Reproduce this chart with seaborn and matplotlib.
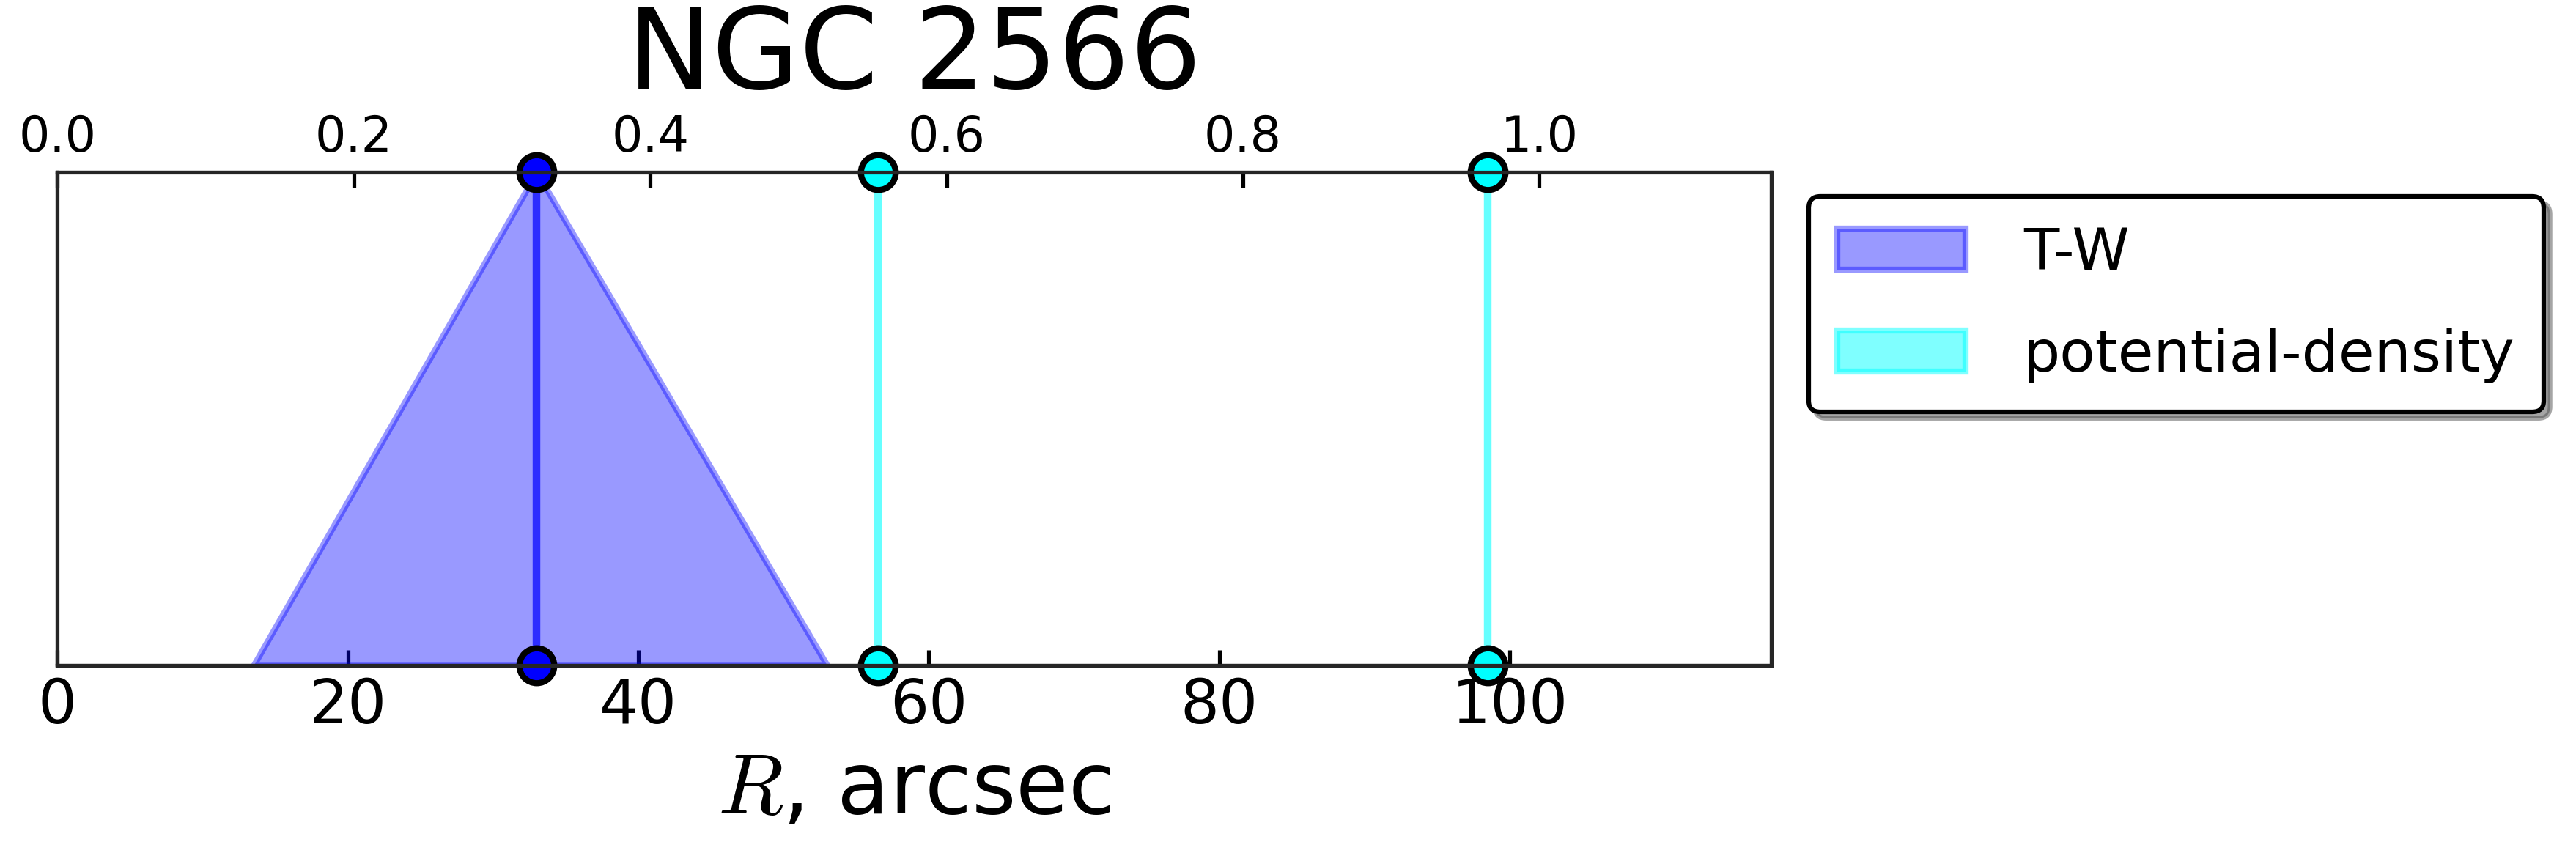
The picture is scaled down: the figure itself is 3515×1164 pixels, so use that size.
import matplotlib
matplotlib.use("Agg")
import matplotlib.pyplot as plt
import seaborn as sns
import pandas as pd

# data
tw_center = 33.0
tw_low = 13.5
tw_high = 53.0
pd_radii = [56.5, 98.5]
x_max = 118.0
scale_kpc = 0.0098  # top axis / arcsec

sns.set_theme(style="white")
plt.rcParams["font.family"] = ["DejaVu Sans"]
plt.rcParams["mathtext.fontset"] = "cm"
plt.rcParams["text.color"] = "black"
plt.rcParams["xtick.color"] = "black"

fig = plt.figure(figsize=(11.717, 3.88), dpi=300)
ax = fig.add_axes([0.0223, 0.22, 0.6652, 0.578])

ax.fill_between([tw_low, tw_center, tw_high], [0, 1, 0], 0, color="blue",
                alpha=0.4, label="T-W", linewidth=2, edgecolor="blue")
ax.plot([tw_center, tw_center], [0, 1], color="blue", alpha=0.7, lw=2.5)
sns.scatterplot(x=[tw_center, tw_center], y=[0, 1], ax=ax, s=130, color="blue",
                edgecolor="black", linewidth=2, zorder=5, clip_on=False, legend=False)

for r in pd_radii:
    ax.plot([r, r], [0, 1], color="cyan", alpha=0.6, lw=2.5)
pts = pd.DataFrame({"x": pd_radii * 2, "y": [0] * 2 + [1] * 2})
sns.scatterplot(data=pts, x="x", y="y", ax=ax, s=130, color="cyan",
                edgecolor="black", linewidth=2, zorder=5, clip_on=False, legend=False)
ax.fill_between([], [], color="cyan", alpha=0.5, label="potential-density",
                edgecolor="cyan", linewidth=2)

ax.set_xlim(0, x_max)
ax.set_ylim(0, 1)
ax.set_yticks([])
ax.set_xticks([0, 20, 40, 60, 80, 100])
ax.tick_params(axis="x", labelsize=20, labelcolor="black", direction="in", length=5, bottom=True)
ax.set_xlabel("$R$, arcsec", fontsize=28, color="black")
ax.set_ylabel("")
for s in ax.spines.values():
    s.set_color("black")
    s.set_linewidth(1)

top = ax.twiny()
top.set_xlim(0, x_max * scale_kpc)
top.set_xticks([0.0, 0.2, 0.4, 0.6, 0.8, 1.0])
top.set_xticklabels(["0.0", "0.2", "0.4", "0.6", "0.8", "1.0"])
top.tick_params(axis="x", labelsize=16, labelcolor="black", direction="in", length=5, top=True)
top.set_title("NGC 2566", fontsize=37, pad=8, color="black")

leg = ax.legend(loc="upper left", bbox_to_anchor=(1.005, 1.01), fontsize=19,
                frameon=True, shadow=True, fancybox=True, borderpad=0.5,
                labelspacing=0.8, handlelength=2.2, handletextpad=1.0)
leg.get_frame().set_edgecolor("black")
leg.get_frame().set_linewidth(1.5)
for t in leg.get_texts():
    t.set_color("black")

fig.savefig("out.png", dpi=300)
